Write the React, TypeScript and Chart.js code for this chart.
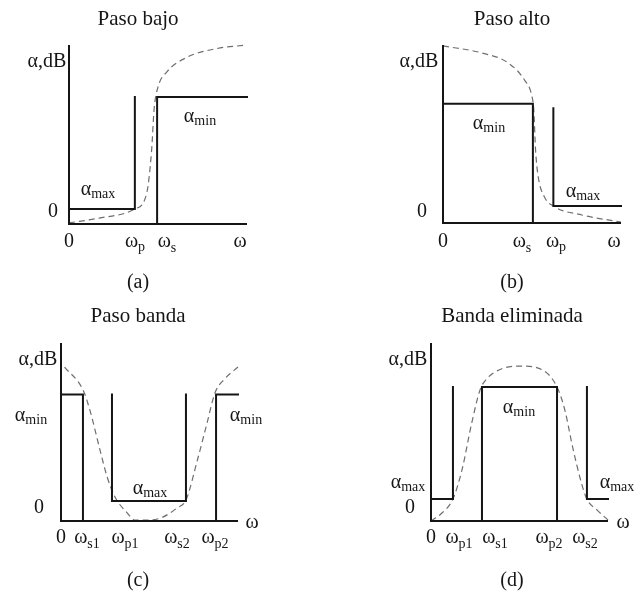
import React, { useEffect, useRef } from "react";
import { Chart, registerables } from "chart.js";

Chart.register(...registerables);

const W = 635;
const H = 592;

// Axes (shared): vertical α axis then horizontal ω axis
const AXIS_W = [0, 0, 10];
const AXIS_A = [10, 0, 0];

// (a) Paso bajo
const LP_PASS_W = [0, 3.7, 3.7];
const LP_PASS_A = [0.84, 0.84, 7.1];
const LP_STOP_W = [4.95, 4.95, 10];
const LP_STOP_A = [0, 7.1, 7.1];
const LP_CURVE_W = [0, 1.7, 3.7, 4.36, 4.64, 4.78, 5.0, 5.5, 6.6, 8.3, 10];
const LP_CURVE_A = [0.06, 0.33, 0.84, 1.7, 4.1, 6.4, 7.65, 8.5, 9.3, 9.8, 10];

// (b) Paso alto
const HP_STOP_W = [0, 5.05, 5.05];
const HP_STOP_A = [6.7, 6.7, 0];
const HP_PASS_W = [6.2, 6.2, 10];
const HP_PASS_A = [6.45, 0.95, 0.95];
const HP_CURVE_W = [0, 2.2, 3.65, 4.6, 5.0, 5.1, 5.2, 5.35, 5.7, 6.2, 7.8, 10];
const HP_CURVE_A = [9.95, 9.55, 9.0, 8.0, 7.1, 6.35, 4.1, 2.6, 1.46, 0.95, 0.45, 0.05];

// (c) Paso banda
const BP_STOP1_W = [0, 1.24, 1.24];
const BP_STOP1_A = [7.1, 7.1, 0];
const BP_PASS_W = [2.88, 2.88, 7.06, 7.06];
const BP_PASS_A = [7.1, 1.12, 1.12, 7.1];
const BP_STOP2_W = [8.76, 8.76, 10];
const BP_STOP2_A = [0, 7.1, 7.1];
const BP_CURVE_W = [0.2, 1.25, 1.64, 2.2, 2.6, 3.05, 3.7, 4.2, 5.0, 5.75, 6.55, 7.06, 7.7, 8.25, 8.7, 9.27, 10];
const BP_CURVE_A = [8.65, 7.35, 6.2, 4.0, 2.5, 1.35, 0.5, 0.05, 0.05, 0.22, 0.73, 1.18, 3.4, 5.5, 7.2, 8.0, 8.65];

// (d) Banda eliminada
const BS_PASS1_W = [0, 1.24, 1.24];
const BS_PASS1_A = [1.24, 1.24, 7.53];
const BS_STOP_W = [2.88, 2.88, 7.12, 7.12];
const BS_STOP_A = [0, 7.53, 7.53, 0];
const BS_PASS2_W = [8.81, 8.81, 10];
const BS_PASS2_A = [7.53, 1.24, 1.24];
const BS_CURVE_W = [0, 0.62, 1.24, 1.75, 2.3, 2.77, 3.16, 4.0, 5.14, 6.27, 7.12, 7.57, 8.0, 8.5, 8.8, 9.4, 10];
const BS_CURVE_A = [0, 0.45, 1.24, 2.87, 5.5, 7.36, 8.0, 8.55, 8.7, 8.5, 7.53, 6.2, 4.16, 2.13, 1.24, 0.6, 0.05];

type Series = [number[], number[]];
type Panel = {
  area: [number, number, number, number];
  solid: Series[];
  curve: Series;
};

const PANELS: Panel[] = [
  { area: [69, 45, 247, 224], solid: [[LP_PASS_W, LP_PASS_A], [LP_STOP_W, LP_STOP_A]], curve: [LP_CURVE_W, LP_CURVE_A] },
  { area: [443, 45, 621, 223], solid: [[HP_STOP_W, HP_STOP_A], [HP_PASS_W, HP_PASS_A]], curve: [HP_CURVE_W, HP_CURVE_A] },
  { area: [61, 343, 238, 521], solid: [[BP_STOP1_W, BP_STOP1_A], [BP_PASS_W, BP_PASS_A], [BP_STOP2_W, BP_STOP2_A]], curve: [BP_CURVE_W, BP_CURVE_A] },
  { area: [431, 343, 608, 521], solid: [[BS_PASS1_W, BS_PASS1_A], [BS_STOP_W, BS_STOP_A], [BS_PASS2_W, BS_PASS2_A]], curve: [BS_CURVE_W, BS_CURVE_A] },
];

type Lbl = { x: number; y: number; t: string; s?: string; size?: number; drop?: number };

const LABELS: Lbl[] = [
  // (a)
  { x: 138, y: 26, t: "Paso bajo", size: 21 },
  { x: 47, y: 67, t: "α,dB" },
  { x: 53, y: 217, t: "0" },
  { x: 69, y: 247, t: "0" },
  { x: 135, y: 247, t: "ω", s: "p", drop: 4 },
  { x: 167, y: 247, t: "ω", s: "s", drop: 5 },
  { x: 240, y: 247, t: "ω" },
  { x: 200, y: 122, t: "α", s: "min", drop: 3 },
  { x: 98, y: 195, t: "α", s: "max", drop: 3 },
  { x: 138, y: 288, t: "(a)" },
  // (b)
  { x: 512, y: 26, t: "Paso alto", size: 21 },
  { x: 419, y: 67, t: "α,dB" },
  { x: 422, y: 217, t: "0" },
  { x: 443, y: 247, t: "0" },
  { x: 522, y: 247, t: "ω", s: "s", drop: 5 },
  { x: 556, y: 247, t: "ω", s: "p", drop: 4 },
  { x: 614, y: 247, t: "ω" },
  { x: 489, y: 129, t: "α", s: "min", drop: 3 },
  { x: 583, y: 197, t: "α", s: "max", drop: 3 },
  { x: 512, y: 288, t: "(b)" },
  // (c)
  { x: 138, y: 323, t: "Paso banda", size: 21 },
  { x: 38, y: 365, t: "α,dB" },
  { x: 31, y: 421, t: "α", s: "min", drop: 3 },
  { x: 246, y: 421, t: "α", s: "min", drop: 3 },
  { x: 150, y: 494, t: "α", s: "max", drop: 3 },
  { x: 39, y: 513, t: "0" },
  { x: 61, y: 543, t: "0" },
  { x: 87, y: 543, t: "ω", s: "s1", drop: 5 },
  { x: 125, y: 543, t: "ω", s: "p1", drop: 5 },
  { x: 177, y: 543, t: "ω", s: "s2", drop: 5 },
  { x: 215, y: 543, t: "ω", s: "p2", drop: 5 },
  { x: 252, y: 528, t: "ω" },
  { x: 138, y: 586, t: "(c)" },
  // (d)
  { x: 512, y: 323, t: "Banda eliminada", size: 21 },
  { x: 408, y: 365, t: "α,dB" },
  { x: 408, y: 488, t: "α", s: "max", drop: 3 },
  { x: 410, y: 513, t: "0" },
  { x: 519, y: 413, t: "α", s: "min", drop: 3 },
  { x: 617, y: 488, t: "α", s: "max", drop: 3 },
  { x: 431, y: 543, t: "0" },
  { x: 459, y: 543, t: "ω", s: "p1", drop: 5 },
  { x: 495, y: 543, t: "ω", s: "s1", drop: 5 },
  { x: 549, y: 543, t: "ω", s: "p2", drop: 5 },
  { x: 585, y: 543, t: "ω", s: "s2", drop: 5 },
  { x: 623, y: 528, t: "ω" },
  { x: 512, y: 586, t: "(d)" },
];

const FONT = '"Liberation Serif", "Times New Roman", Times, serif';

function zip(xs: number[], ys: number[]) {
  return xs.map((x, i) => ({ x, y: ys[i] }));
}

function PanelChart({ panel }: { panel: Panel }) {
  const ref = useRef<HTMLCanvasElement>(null);
  useEffect(() => {
    if (!ref.current) return;
    const [l, t, r, b] = panel.area;
    const solidStyle = {
      borderColor: "#151515",
      borderWidth: 2,
      borderJoinStyle: "miter" as const,
      borderCapStyle: "square" as const,
      pointRadius: 0,
      showLine: true,
      clip: false as const,
      tension: 0,
    };
    const datasets: any[] = [
      { data: zip(AXIS_W, AXIS_A), ...solidStyle, borderCapStyle: "butt" },
      ...panel.solid.map(([xs, ys]) => ({ data: zip(xs, ys), ...solidStyle })),
      {
        data: zip(panel.curve[0], panel.curve[1]),
        borderColor: "#6e6e6e",
        borderWidth: 1.2,
        borderDash: [6, 4],
        pointRadius: 0,
        showLine: true,
        clip: false,
        cubicInterpolationMode: "monotone",
      },
    ];
    const chart = new Chart(ref.current, {
      type: "scatter",
      data: { datasets },
      options: {
        responsive: false,
        animation: false,
        events: [],
        layout: { padding: { left: l, top: t, right: W - r, bottom: H - b } },
        scales: {
          x: { type: "linear", min: 0, max: 10, display: false },
          y: { type: "linear", min: 0, max: 10, display: false },
        },
        plugins: { legend: { display: false }, tooltip: { enabled: false } },
      },
    });
    return () => chart.destroy();
  }, [panel]);
  return (
    <canvas
      ref={ref}
      width={W}
      height={H}
      style={{ position: "absolute", left: 0, top: 0, width: W, height: H }}
    />
  );
}

function Label({ l }: { l: Lbl }) {
  const size = l.size ?? 20;
  return (
    <div
      style={{
        position: "absolute",
        left: l.x,
        top: l.y - 0.8375 * size,
        transform: "translateX(-50%)",
        fontFamily: FONT,
        fontSize: size,
        lineHeight: `${size}px`,
        whiteSpace: "nowrap",
        color: "#151515",
      }}
    >
      {l.t}
      {l.s && (
        <span style={{ fontSize: 14, lineHeight: 0, verticalAlign: `-${l.drop ?? 3}px` }}>{l.s}</span>
      )}
    </div>
  );
}

export default function App() {
  return (
    <div
      style={{
        position: "absolute",
        left: 0,
        top: 0,
        width: W,
        height: H,
        background: "#fff",
        overflow: "hidden",
      }}
    >
      {PANELS.map((p, i) => (
        <PanelChart key={i} panel={p} />
      ))}
      {LABELS.map((l, i) => (
        <Label key={i} l={l} />
      ))}
    </div>
  );
}
